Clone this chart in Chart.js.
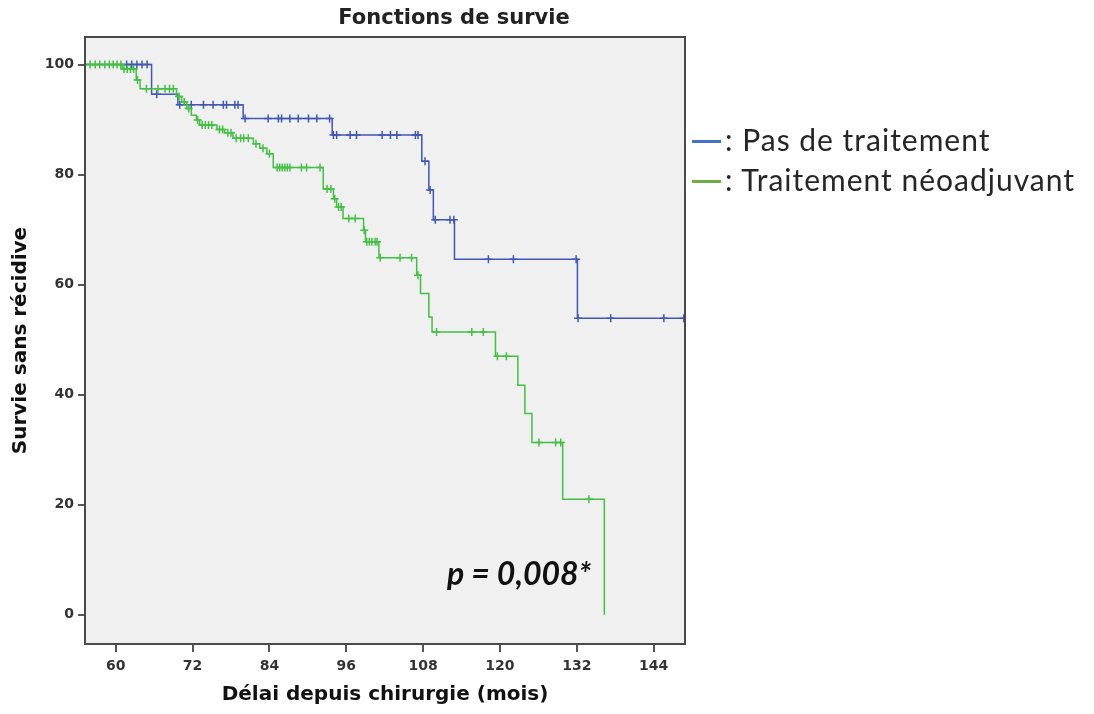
<!DOCTYPE html>
<html lang="fr">
<head>
<meta charset="UTF-8">
<title>Fonctions de survie</title>
<script src="https://cdn.jsdelivr.net/npm/chart.js"></script>
<style>
    body, html {
        margin: 0;
        padding: 0;
        width: 1094px;
        height: 714px;
        overflow: hidden;
        background: #fff;
    }
    #wrap { position: absolute; left: 0; top: 0; width: 700px; height: 714px; }
    .title {
        position: absolute; left: 254px; width: 400px; top: 5px;
        text-align: center; font: bold 21px "DejaVu Sans", sans-serif; color: #222;
    }
    .dash { position: absolute; left: 692px; width: 29px; height: 3px; }
    .leg {
        position: absolute; left: 725px; font: 30px/30px Lato, sans-serif; letter-spacing: 1px;
        color: #262626; white-space: nowrap;
    }
    .pval {
        position: absolute; left: 447px; top: 557px;
        font: italic bold 32px/32px Lato, sans-serif; color: #111; white-space: nowrap;
    }
</style>
</head>
<body>
<div id="wrap"><canvas id="km"></canvas></div>
<div class="title">Fonctions de survie</div>
<div class="dash" style="top:140px;background:#4472c4"></div>
<div class="leg" style="top:124px">: Pas de traitement</div>
<div class="dash" style="top:180px;background:#70ad47"></div>
<div class="leg" style="top:164px">: Traitement néoadjuvant</div>
<div class="pval">p = 0,008*</div>

<script>
    // Kaplan-Meier steps: time (months) where the curve drops, level after the drop
    const noTxTimes  = [55.2, 65.6, 69.7, 79.9, 93.8, 107.8, 108.9, 109.6, 112.9, 132.1, 148.9];
    const noTxLevels = [100, 94.6, 92.7, 90.2, 87.2, 82.4, 77.2, 71.8, 64.6, 53.9, 53.9];
    const noTxCensored = [61.7, 62.5, 63.3, 64.1, 64.9, 66.4, 70.0, 71.8, 73.7, 75.2, 76.8, 77.3, 78.6, 79.1,
        80.2, 83.8, 85.4, 85.9, 87.2, 88.5, 90.1, 91.4, 93.4, 94.0, 94.5, 96.6, 97.6, 101.6, 102.9, 103.9,
        106.8, 107.2, 108.3, 109.1, 109.9, 112.2, 112.8, 118.2, 122.1, 131.9, 132.2, 137.3, 145.6, 148.7];

    const neoTimes  = [55.2, 61.0, 63.2, 63.8, 69.5, 70.3, 71.1, 71.8, 72.6, 73.1, 75.8, 77.0, 78.3, 81.5,
        82.5, 83.6, 84.6, 92.4, 94.0, 94.5, 95.5, 98.7, 99.0, 101.1, 107.0, 107.6, 108.9, 109.4, 119.3,
        122.8, 123.9, 125.0, 129.8, 136.3];
    const neoLevels = [100, 99.2, 97.2, 95.6, 94.2, 93.2, 92.0, 90.8, 89.9, 89.0, 88.2, 87.6, 86.6, 85.6,
        84.8, 83.8, 81.3, 77.4, 75.6, 74.1, 72.0, 69.9, 67.8, 64.9, 61.7, 58.4, 54.1, 51.4, 47.0,
        41.7, 36.6, 31.3, 21.0, 0];
    const neoCensored = [56.0, 56.8, 57.5, 58.3, 59.0, 59.6, 60.2, 60.8, 61.3, 61.8, 62.3, 62.8, 63.4,
        64.8, 66.6, 67.7, 68.4, 69.0, 69.9, 70.7, 71.4, 72.8, 73.5, 74.0, 74.5, 75.0, 76.2, 76.7, 77.5,
        78.0, 78.8, 79.5, 80.0, 80.7, 81.9, 83.0, 84.0, 85.2, 85.6, 86.0, 86.4, 86.8, 87.2, 89.0, 89.8,
        91.9, 93.0, 93.6, 94.2, 94.8, 95.2, 96.4, 97.4, 98.8, 99.2, 99.6, 100.0, 100.5, 100.8, 101.3,
        104.4, 106.2, 107.2, 110.1, 115.6, 117.4, 119.6, 121.0, 126.1, 128.7, 129.5, 133.9];

    const xTicks = [60, 72, 84, 96, 108, 120, 132, 144];
    const yTicks = [0, 20, 40, 60, 80, 100];

    const blue = '#4157b4';
    const green = '#45bf45';

    // level of the step curve at time t
    function levelAt(times, levels, t) {
        let v = levels[0];
        for (let i = 0; i < times.length; i++) if (times[i] <= t) v = levels[i];
        return v;
    }
    const steps = (times, levels) => times.map((t, i) => ({ x: t, y: levels[i] }));
    const marks = (cens, times, levels) => cens.map(t => ({ x: t, y: levelAt(times, levels, t) }));

    const tickFont = { family: 'DejaVu Sans', size: 14, weight: 'bold' };
    const titleFont = { family: 'DejaVu Sans', size: 20, weight: 'bold' };

    const framePlugin = {
        id: 'frame',
        beforeDatasetsDraw(chart) {
            const { ctx, chartArea: a } = chart;
            ctx.save();
            ctx.fillStyle = '#f0f0f0';
            ctx.fillRect(a.left, a.top, a.right - a.left, a.bottom - a.top);
            ctx.restore();
        },
        afterDatasetsDraw(chart) {
            const { ctx, chartArea: a } = chart;
            ctx.save();
            ctx.strokeStyle = '#4a4a4a';
            ctx.lineWidth = 2;
            ctx.strokeRect(a.left, a.top, a.right - a.left, a.bottom - a.top);
            ctx.restore();
        }
    };

    new Chart(document.getElementById('km'), {
        type: 'line',
        data: {
            datasets: [
                { data: marks(neoCensored, neoTimes, neoLevels), showLine: false, pointStyle: 'cross',
                  pointRadius: 4, pointBorderWidth: 1.5, borderColor: green, backgroundColor: green },
                { data: steps(neoTimes, neoLevels), stepped: true, borderColor: green, borderWidth: 1.5,
                  pointRadius: 0, fill: false },
                { data: marks(noTxCensored, noTxTimes, noTxLevels), showLine: false, pointStyle: 'cross',
                  pointRadius: 4, pointBorderWidth: 1.5, borderColor: blue, backgroundColor: blue },
                { data: steps(noTxTimes, noTxLevels), stepped: true, borderColor: blue, borderWidth: 1.5,
                  pointRadius: 0, fill: false }
            ]
        },
        options: {
            responsive: true,
            maintainAspectRatio: false,
            animation: false,
            layout: { padding: { top: 37, right: 15, left: 0, bottom: 0 } },
            plugins: { legend: { display: false }, tooltip: { enabled: false } },
            scales: {
                x: {
                    type: 'linear', min: 55.2, max: 148.9,
                    afterBuildTicks: s => { s.ticks = xTicks.map(v => ({ value: v })); },
                    afterFit: s => { s.height = 70; },
                    grid: { drawOnChartArea: false, drawTicks: true, tickLength: 8, color: '#555', lineWidth: 2 },
                    border: { display: false },
                    ticks: { font: tickFont, color: '#333', padding: 6, maxRotation: 0 },
                    title: { display: true, text: 'Délai depuis chirurgie (mois)', font: titleFont,
                             color: '#111', padding: { top: 0, bottom: 7 } }
                },
                y: {
                    min: -5.3, max: 105,
                    afterBuildTicks: s => { s.ticks = yTicks.map(v => ({ value: v })); },
                    afterFit: s => { s.width = 85; },
                    grid: { drawOnChartArea: false, drawTicks: true, tickLength: 7, color: '#555', lineWidth: 2 },
                    border: { display: false },
                    ticks: { font: tickFont, color: '#333', padding: 4 },
                    title: { display: true, text: 'Survie sans récidive', font: titleFont,
                             color: '#111', padding: { top: 9, bottom: 0 } }
                }
            }
        },
        plugins: [framePlugin]
    });
</script>
</body>
</html>
